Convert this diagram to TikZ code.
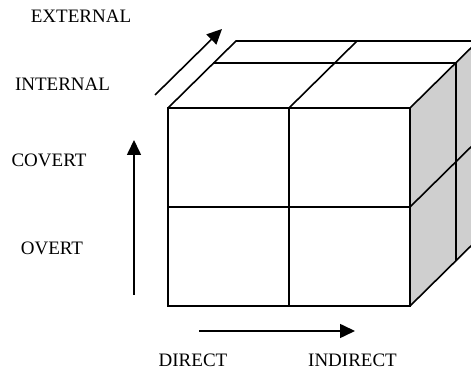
\documentclass[tikz,border=0pt]{standalone}
\usepackage{fontspec}
\setmainfont{Liberation Serif}
\usetikzlibrary{arrows.meta}
\begin{document}
\begin{tikzpicture}[x=1pt,y=1pt,
  edge/.style={line width=1.6pt, line join=miter},
  axis/.style={line width=1.6pt, -{Triangle[length=15pt,width=14pt]}},
  lbl/.style={anchor=base, inner sep=0pt, font=\fontsize{19}{21}\selectfont}]
\useasboundingbox (0,0) rectangle (471,371);
\clip (0,0) rectangle (471,371);
% right face shading
\fill[gray!38] (410,65) -- (478,132) -- (478,330) -- (410,263) -- cycle;
% front face
\draw[edge] (168,65) rectangle (410,263);
\draw[edge] (289,65) -- (289,263);
\draw[edge] (168,164) -- (410,164);
% top face
\draw[edge] (168,263) -- (236,330) -- (478,330) -- (410,263);
\draw[edge] (213,308) -- (456,308);
\draw[edge] (289,263) -- (357,330);
% right face
\draw[edge] (410,65) -- (478,132) -- (478,330);
\draw[edge] (456,110) -- (456,308);
\draw[edge] (410,164) -- (478,231);
% axis arrows
\coordinate (u0) at (134,76);
\coordinate (u1) at (134,231);
\coordinate (d0) at (155,276);
\coordinate (d1) at (222,342);
\coordinate (h0) at (199,40);
\coordinate (h1) at (355,40);
\draw[axis] (u0) -- (u1);
\draw[axis] (d0) -- (d1);
\draw[axis] (h0) -- (h1);
% labels
\node[lbl] (ext) at (81,348.5) {EXTERNAL};
\node[lbl] (int) at (62.5,280.5) {INTERNAL};
\node[lbl] (cov) at (49,204) {COVERT};
\node[lbl] (ovt) at (52,116) {OVERT};
\node[lbl] (dir) at (193,4.5) {DIRECT};
\node[lbl] (ind) at (352.5,4.5) {INDIRECT};
\end{tikzpicture}
\end{document}
